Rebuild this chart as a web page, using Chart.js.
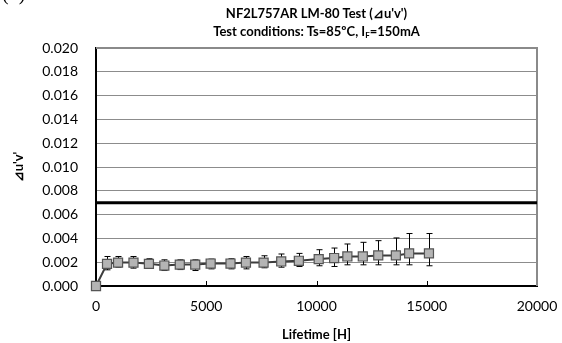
<!DOCTYPE html>
<html>
<head>
<meta charset="utf-8">
<script src="https://cdn.jsdelivr.net/npm/chart.js@4.4.0/dist/chart.umd.min.js"></script>
<style>
  html, body { margin: 0; padding: 0; background: #fff; }
  #wrap { position: relative; width: 562px; height: 343px; overflow: hidden; }
  #fig { position: absolute; left: 0; top: 0; }
  .ttl { position: absolute; left: 96px; width: 441px; text-align: center;
         font: bold 13px Lato, sans-serif; color: #000; white-space: nowrap; }
  .ttl sub { font-size: 8px; vertical-align: -2px; line-height: 0; }
  #tag { position: absolute; left: 2px; top: -18px; font: 20px "Liberation Serif", serif; color: #000; }
</style>
</head>
<body>
<div id="wrap">
  <canvas id="fig" width="562" height="343"></canvas>
  <div id="tag">(3)</div>
  <div class="ttl" style="top:5px">NF2L757AR LM-80 Test (⊿u'v')</div>
  <div class="ttl" style="top:23px">Test conditions: Ts=85ºC, I<sub>F</sub>=150mA</div>
</div>
<script>
const hours  = [0, 500, 1000, 1700, 2400, 3100, 3800, 4500, 5200, 6100, 6800, 7600, 8400, 9200, 10100, 10800, 11400, 12100, 12800, 13600, 14200, 15100];
const duv    = [0, 0.00186, 0.00197, 0.00197, 0.00186, 0.00172, 0.0018, 0.0018, 0.00189, 0.00189, 0.00197, 0.00197, 0.00206, 0.00212, 0.00226, 0.00235, 0.00248, 0.00248, 0.00257, 0.00257, 0.00274, 0.00274];
const errHi  = [0, 0.00248, 0.00248, 0.00248, 0.00229, 0.0022, 0.0022, 0.0022, 0.00226, 0.00229, 0.00248, 0.00254, 0.00269, 0.00274, 0.00305, 0.00319, 0.00353, 0.00367, 0.00381, 0.00404, 0.00441, 0.00441];
const errLo  = [0, 0.00136, 0.00158, 0.0015, 0.0015, 0.0013, 0.00138, 0.0013, 0.00144, 0.00144, 0.00144, 0.00153, 0.00158, 0.00164, 0.0017, 0.00164, 0.00178, 0.00178, 0.00178, 0.00178, 0.00178, 0.0017];
const limitY = 0.007;
const xRange = [0, 20000];
const yRange = [0, 0.02];
const xStep = 5000;
const yStep = 0.002;

(function () {
    const FONT = 'Lato, sans-serif';

    // error bars under the markers
    const errorBars = {
        id: 'errorBars',
        afterDatasetDraw(chart, args) {
            if (args.index !== 1) return;
            const meta = chart.getDatasetMeta(0);
            const ys = chart.scales.y;
            const ctx = chart.ctx;
            ctx.save();
            ctx.strokeStyle = '#000';
            ctx.lineWidth = 1;
            meta.data.forEach((pt, i) => {
                if (errHi[i] === errLo[i]) return;
                const x = Math.round(pt.x) + 0.5;
                const y1 = ys.getPixelForValue(errHi[i]);
                const y2 = ys.getPixelForValue(errLo[i]);
                ctx.beginPath();
                ctx.moveTo(x, y1); ctx.lineTo(x, y2);
                ctx.moveTo(x - 3, y1); ctx.lineTo(x + 3, y1);
                ctx.moveTo(x - 3, y2); ctx.lineTo(x + 3, y2);
                ctx.stroke();
            });
            ctx.restore();
        }
    };

    // plot frame (grey top/right) and inside ticks on the x axis
    const frame = {
        id: 'frame',
        beforeDatasetsDraw(chart) {
            const { ctx, chartArea: a, scales } = chart;
            ctx.save();
            ctx.strokeStyle = '#8a8a8a';
            ctx.lineWidth = 2;
            ctx.beginPath();
            ctx.moveTo(a.left, a.top); ctx.lineTo(a.right, a.top); ctx.lineTo(a.right, a.bottom);
            ctx.stroke();
            ctx.strokeStyle = '#000';
            ctx.lineWidth = 1;
            ctx.beginPath();
            for (let v = xRange[0] + xStep; v < xRange[1]; v += xStep) {
                const x = Math.round(scales.x.getPixelForValue(v)) + 0.5;
                ctx.moveTo(x, a.bottom); ctx.lineTo(x, a.bottom - 5);
            }
            ctx.stroke();
            ctx.restore();
        }
    };

    const el = document.getElementById('fig');
    new Chart(el, {
        type: 'scatter',
        data: {
            datasets: [
                {
                    data: hours.map((h, i) => ({ x: h, y: duv[i] })),
                    showLine: true,
                    borderColor: '#3c3c3c',
                    borderWidth: 2,
                    pointStyle: 'rect',
                    pointRadius: 6.4,
                    pointBackgroundColor: '#b4b4b4',
                    pointBorderColor: '#555',
                    pointBorderWidth: 1.2,
                    clip: false,
                    order: 1
                },
                {
                    data: [{ x: xRange[0], y: limitY }, { x: xRange[1], y: limitY }],
                    showLine: true,
                    borderColor: '#000',
                    borderWidth: 3,
                    pointRadius: 0,
                    order: 2
                }
            ]
        },
        options: {
            responsive: false,
            animation: false,
            layout: { padding: { top: 48, right: 25, left: 0, bottom: 0 } },
            plugins: { legend: { display: false }, tooltip: { enabled: false } },
            scales: {
                x: {
                    type: 'linear',
                    min: xRange[0], max: xRange[1],
                    afterFit(s) { s.height = 57; },
                    grid: { display: false },
                    border: { color: '#000', width: 2 },
                    ticks: { stepSize: xStep, color: '#000', padding: 4, font: { family: FONT, size: 14 },
                             callback: v => String(v) },
                    title: { display: true, text: 'Lifetime [H]', color: '#000', padding: { top: 2, bottom: 0 },
                             font: { family: FONT, size: 13, weight: 'bold' } }
                },
                y: {
                    min: yRange[0], max: yRange[1],
                    afterFit(s) { s.width = 96; },
                    grid: { color: '#8c8c8c', lineWidth: 1, drawTicks: false },
                    border: { color: '#000', width: 2 },
                    ticks: { stepSize: yStep, color: '#000', padding: 18, font: { family: FONT, size: 14 },
                             callback: v => v.toFixed(3) },
                    title: { display: true, text: "⊿u'v'", color: '#000', padding: { top: 11, bottom: 0 },
                             font: { family: FONT, size: 13, weight: 'bold' } }
                }
            }
        },
        plugins: [frame, errorBars]
    });
})();
</script>
</body>
</html>
